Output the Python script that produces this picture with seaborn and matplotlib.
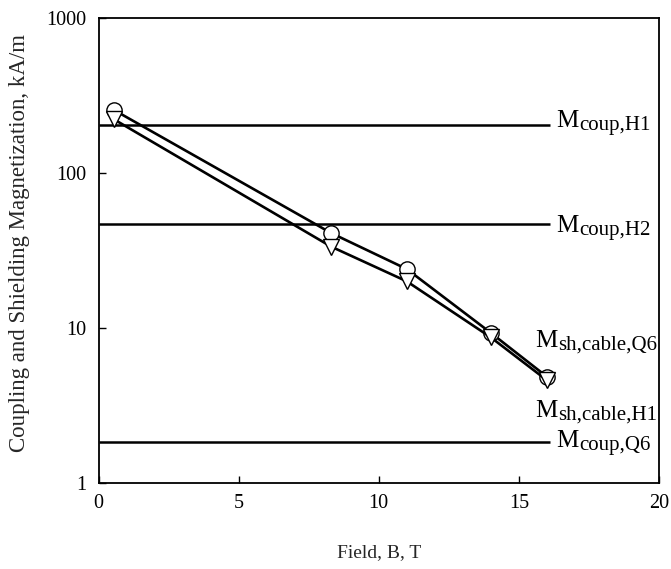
import matplotlib
matplotlib.use("Agg")
import matplotlib.pyplot as plt
import seaborn as sns
import pandas as pd

# ---- data ----
field = [0.55, 8.3, 11.0, 14.0, 16.0]
m_circle = [255, 41, 24, 9.3, 4.85]
m_triangle = [222, 33.5, 20, 8.7, 4.6]

coup_levels = [204, 47, 1.85]
coup_line_x = [0, 16.1]

labels = [
    ("M", "coup,H1", 16.35, 197),
    ("M", "coup,H2", 16.35, 41.6),
    ("M", "sh,cable,Q6", 15.6, 7.57),
    ("M", "sh,cable,H1", 15.6, 2.68),
    ("M", "coup,Q6", 16.35, 1.71),
]

sns.set_theme(style="ticks")
plt.rcParams["font.family"] = ["Liberation Serif", "DejaVu Serif"]

fig = plt.figure(figsize=(6.71, 5.69), dpi=100)
ax = fig.add_axes([98.5 / 671, 1 - 483 / 569, (659 - 98.5) / 671, (483 - 18) / 569])

df_c = pd.DataFrame({"B": field, "M": m_circle})
df_t = pd.DataFrame({"B": field, "M": m_triangle})

ax.hlines(coup_levels, coup_line_x[0], coup_line_x[1], colors="black", linewidth=1.8, zorder=1)

sns.lineplot(data=df_c, x="B", y="M", ax=ax, color="black", linewidth=1.9,
             marker="o", markersize=11, markerfacecolor="white",
             markeredgecolor="black", markeredgewidth=1.0, zorder=2)
sns.lineplot(data=df_t, x="B", y="M", ax=ax, color="black", linewidth=1.9,
             marker="v", markersize=11, markerfacecolor="white",
             markeredgecolor="black", markeredgewidth=1.0, zorder=3)

ax.set_yscale("log")
ax.set_xlim(0, 20)
ax.set_ylim(1, 1000)
ax.set_xticks([0, 5, 10, 15, 20])
ax.set_yticks([1, 10, 100, 1000])
ax.set_yticklabels(["1", "10", "100", "1000"])
ax.minorticks_off()
ax.tick_params(direction="in", length=5, width=1.0, labelsize=14.5, colors="black")
ax.tick_params(axis="x", pad=8)
ax.tick_params(axis="y", pad=9)
for s in ax.spines.values():
    s.set_linewidth(1.3)
    s.set_color("black")

ax.set_xlabel("Field, B, T", fontsize=14, labelpad=22)
ax.set_ylabel("Coupling and Shielding Magnetization, kA/m", fontsize=16.5)
ax.yaxis.set_label_coords(-0.122, 0.517)

for main, sub, x, y in labels:
    t = ax.text(x, y, main, fontsize=18, ha="left", va="baseline", color="black")
    ax.annotate(sub, xy=(1, 0), xycoords=t, xytext=(0, -2), textcoords="offset points",
                fontsize=15, ha="left", va="bottom", color="black")

fig.savefig("out.png", dpi=100)
